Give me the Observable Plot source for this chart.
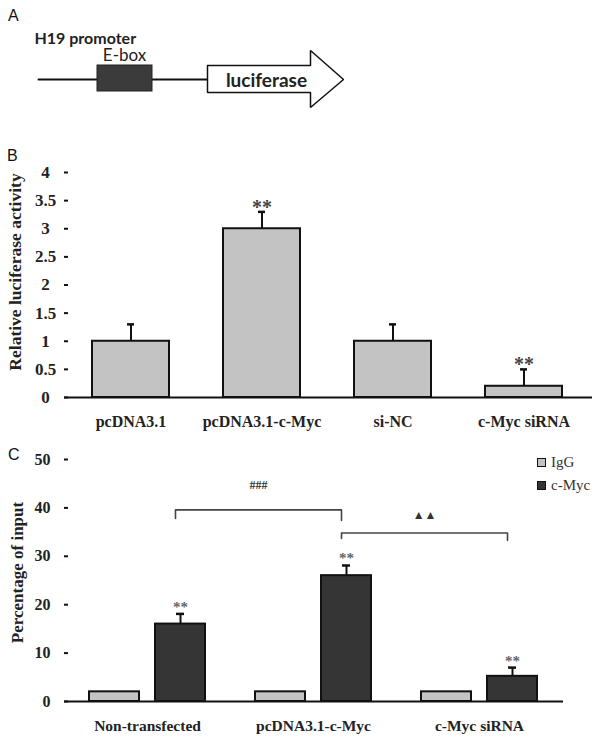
<!DOCTYPE html>
<html>
<head>
<meta charset="utf-8">
<script src="https://cdn.jsdelivr.net/npm/d3@7"></script>
<script src="https://cdn.jsdelivr.net/npm/@observablehq/plot@0.6"></script>
<style>
  body { margin: 0; background: #fff; }
  #wrap { position: relative; width: 600px; height: 744px; overflow: hidden; background: #fff; }
  .panel { position: absolute; left: 0; }
  .letter { position: absolute; font-family: "Liberation Sans", Arial, sans-serif; font-size: 16px; color: #111; line-height: 1; }
  .leg { position: absolute; font-family: "Liberation Serif", "Times New Roman", serif; font-size: 15px; color: #333; line-height: 1; display: flex; align-items: center; }
  .leg span.sw { display: inline-block; width: 7px; height: 7px; border: 1.5px solid #111; margin-right: 5px; }
</style>
</head>
<body>
<div id="wrap"></div>
<script>
// ---------- Panel A: schematic (0–600 schematic units) ----------
const aLabels = ["H19 promoter", "E-box", "luciferase"];
const aPromoterSpan = [38, 207];
const aEboxSpan = [97, 152];
const aEboxHeight = [65, 91];
const aArrowX = [207, 310, 310, 343, 310, 310, 207, 207];
const aArrowY = [65, 65, 50, 79, 107, 92, 92, 65];

// ---------- Panel B ----------
const bCategories = ["pcDNA3.1", "pcDNA3.1-c-Myc", "si-NC", "c-Myc siRNA"];
const bValues = [1, 3, 1, 0.2];
const bErrors = [0.3, 0.3, 0.3, 0.3];
const bStars = ["", "**", "", "**"];
const bTicks = [0, 0.5, 1, 1.5, 2, 2.5, 3, 3.5, 4];
const bTitle = "Relative luciferase activity";

// ---------- Panel C ----------
const cGroups = ["Non-transfected", "pcDNA3.1-c-Myc", "c-Myc siRNA"];
const cSeries = ["IgG", "c-Myc"];
const cIgG = [2, 2, 2];
const cMyc = [16, 26, 5.2];
const cMycErr = [2.1, 2.1, 1.8];
const cStars = ["**", "**", "**"];
const cTicks = [0, 10, 20, 30, 40, 50];
const cTitle = "Percentage of input";
const cBracketFrom = ["Non-transfected", "pcDNA3.1-c-Myc"];
const cBracketTo = ["pcDNA3.1-c-Myc", "c-Myc siRNA"];
const cBracketY = [39.6, 34.8];
const cBracketLeftEnd = [37.8, 33.7];
const cBracketRightEnd = [37.4, 33.3];
const cBracketLabel = ["###", "\u25B2\u25B2"];
const cBracketLabelY = [44.6, 38.4];

const wrap = document.getElementById("wrap");
function place(node, top) {
  node.classList.add("panel");
  node.style.top = top + "px";
  wrap.appendChild(node);
}
function addDiv(cls, text, left, top) {
  const d = document.createElement("div");
  d.className = cls; d.textContent = text;
  d.style.left = left + "px"; d.style.top = top + "px";
  wrap.appendChild(d);
  return d;
}

// ---- Panel A ----
const arrowPts = aArrowX.map((x, i) => ({x, y: aArrowY[i]}));
const promoterPts = aPromoterSpan.map(x => ({x, y: 79}));
const plotA = Plot.plot({
  width: 600, height: 135,
  marginTop: 0, marginBottom: 0, marginLeft: 0, marginRight: 0,
  x: {domain: [0, 600], axis: null},
  y: {domain: [135, 0], axis: null},
  style: {fontFamily: "Lato, 'Liberation Sans', sans-serif", color: "#222"},
  marks: [
    Plot.line(promoterPts, {x: "x", y: "y", stroke: "#111", strokeWidth: 2}),
    Plot.rect([0], {x1: () => aEboxSpan[0], x2: () => aEboxSpan[1], y1: () => aEboxHeight[0], y2: () => aEboxHeight[1], fill: "#3b3b3b", stroke: "#222", strokeWidth: 1}),
    Plot.line(arrowPts, {x: "x", y: "y", stroke: "#111", strokeWidth: 1.5, fill: "white", strokeLinejoin: "miter"}),
    Plot.text([aLabels[0]], {x: () => 34, y: () => 38, text: d => d, textAnchor: "start", fontSize: 16, fontWeight: "bold", fill: "#222"}),
    Plot.text([aLabels[1]], {x: () => 124, y: () => 55, text: d => d, fontSize: 17, fill: "#222"}),
    Plot.text([aLabels[2]], {x: () => 266, y: () => 80, text: d => d, fontSize: 19, fontWeight: "bold", fill: "#222"})
  ]
});
place(plotA, 0);
addDiv("letter", "A", 8, 8);

// ---- Panel B ----
const bData = bCategories.map((c, i) => ({cat: c, value: bValues[i], top: bValues[i] + bErrors[i], star: bStars[i]}));
const plotB = Plot.plot({
  width: 600, height: 305,
  marginTop: 37, marginBottom: 43, marginLeft: 68, marginRight: 8,
  x: {domain: bCategories, range: [64, 590], paddingInner: 0.415, paddingOuter: 0.2075},
  y: {domain: [0, 4]},
  style: {fontFamily: "'Liberation Serif', 'Times New Roman', serif", fontSize: "16px", fontWeight: "bold", color: "#222", background: "transparent"},
  marks: [
    Plot.ruleX(bData, {x: "cat", y1: "value", y2: "top", stroke: "#111", strokeWidth: 2}),
    Plot.tickY(bData, {x: "cat", y: "top", stroke: "#111", strokeWidth: 2.5, insetLeft: 35, insetRight: 35}),
    Plot.barY(bData, {x: "cat", y: "value", fill: "#c3c3c3", stroke: "#111", strokeWidth: 2}),
    Plot.text(bData.filter(d => d.star), {x: "cat", y: "top", text: "star", lineAnchor: "bottom", dy: 2, fontSize: 20, fill: "#444"}),
    Plot.ruleY([0], {stroke: "#111", strokeWidth: 2, insetLeft: -4}),
    Plot.axisY({ticks: bTicks, tickFormat: d => String(d), tickSize: 4, tickPadding: 19, textAnchor: "middle", fontSize: 17, line: true, label: null, stroke: "#111", strokeWidth: 2}),
    Plot.axisX({tickSize: 0, tickPadding: 18, fontSize: 16, label: null}),
    Plot.text([bTitle], {frameAnchor: "left", textAnchor: "middle", lineAnchor: "middle", rotate: -90, dx: -53, dy: -13, text: d => d, fontSize: 17.5, fill: "#222"})
  ]
});
place(plotB, 135);
addDiv("letter", "B", 7, 148);

// ---- Panel C ----
const cData = cGroups.map((g, i) => ({group: g, igg: cIgG[i], myc: cMyc[i], top: cMyc[i] + cMycErr[i], star: cStars[i]}));
const bracketPts = [];
cBracketFrom.forEach((f, i) => {
  bracketPts.push({id: i, x: f, y: cBracketLeftEnd[i]});
  bracketPts.push({id: i, x: f, y: cBracketY[i]});
  bracketPts.push({id: i, x: cBracketTo[i], y: cBracketY[i]});
  bracketPts.push({id: i, x: cBracketTo[i], y: cBracketRightEnd[i]});
});
const bracketLabels = cBracketFrom.map((f, i) => ({x: f, y: cBracketLabelY[i], label: cBracketLabel[i]}));
const cRange = [64, 562];
const cStep = (cRange[1] - cRange[0]) / cGroups.length;
const cBarW = 50, cOff = 33;
const cInset = (cStep - cBarW) / 2;
const cCapInset = (cStep - 8) / 2;
const plotC = Plot.plot({
  width: 600, height: 304,
  marginTop: 19, marginBottom: 43, marginLeft: 68, marginRight: 37,
  x: {domain: cGroups, range: cRange, padding: 0},
  y: {domain: [0, 50]},
  style: {fontFamily: "'Liberation Serif', 'Times New Roman', serif", fontSize: "16px", fontWeight: "bold", color: "#222", background: "transparent"},
  marks: [
    Plot.ruleX(cData, {x: "group", y1: "myc", y2: "top", dx: cOff, stroke: "#111", strokeWidth: 2}),
    Plot.tickY(cData, {x: "group", y: "top", dx: cOff, stroke: "#111", strokeWidth: 2.5, insetLeft: cCapInset, insetRight: cCapInset}),
    Plot.barY(cData, {x: "group", y: "igg", dx: -cOff, insetLeft: cInset, insetRight: cInset, fill: "#c3c3c3", stroke: "#111", strokeWidth: 2}),
    Plot.barY(cData, {x: "group", y: "myc", dx: cOff, insetLeft: cInset, insetRight: cInset, fill: "#353535", stroke: "#111", strokeWidth: 2}),
    Plot.text(cData, {x: "group", y: "top", text: "star", dx: cOff, lineAnchor: "bottom", dy: -2, fontSize: 15, fill: "#666"}),
    Plot.line(bracketPts, {x: "x", y: "y", z: "id", dx: cOff - 5, stroke: "#444", strokeWidth: 1.6}),
    Plot.text(bracketLabels, {x: "x", y: "y", text: "label", dx: cStep / 2 + cOff - 5, fontSize: 12, fill: "#333"}),
    Plot.ruleY([0], {stroke: "#111", strokeWidth: 2, insetLeft: -4}),
    Plot.axisY({ticks: cTicks, tickSize: 4, tickPadding: 14, fontSize: 16, line: true, label: null, stroke: "#111", strokeWidth: 2}),
    Plot.axisX({tickSize: 0, tickPadding: 18, fontSize: 15.5, label: null}),
    Plot.text([cTitle], {frameAnchor: "left", textAnchor: "middle", lineAnchor: "middle", rotate: -90, dx: -51, dy: -8, text: d => d, fontSize: 17, fill: "#222"})
  ]
});
place(plotC, 440);
addDiv("letter", "C", 8, 447);

// legend
const legColors = ["#c3c3c3", "#353535"];
cSeries.forEach((s, i) => {
  const d = document.createElement("div");
  d.className = "leg";
  d.style.left = "537px";
  d.style.top = (455 + i * 23) + "px";
  const sw = document.createElement("span");
  sw.className = "sw"; sw.style.background = legColors[i];
  d.appendChild(sw);
  d.appendChild(document.createTextNode(s));
  wrap.appendChild(d);
});
</script>
</body>
</html>
